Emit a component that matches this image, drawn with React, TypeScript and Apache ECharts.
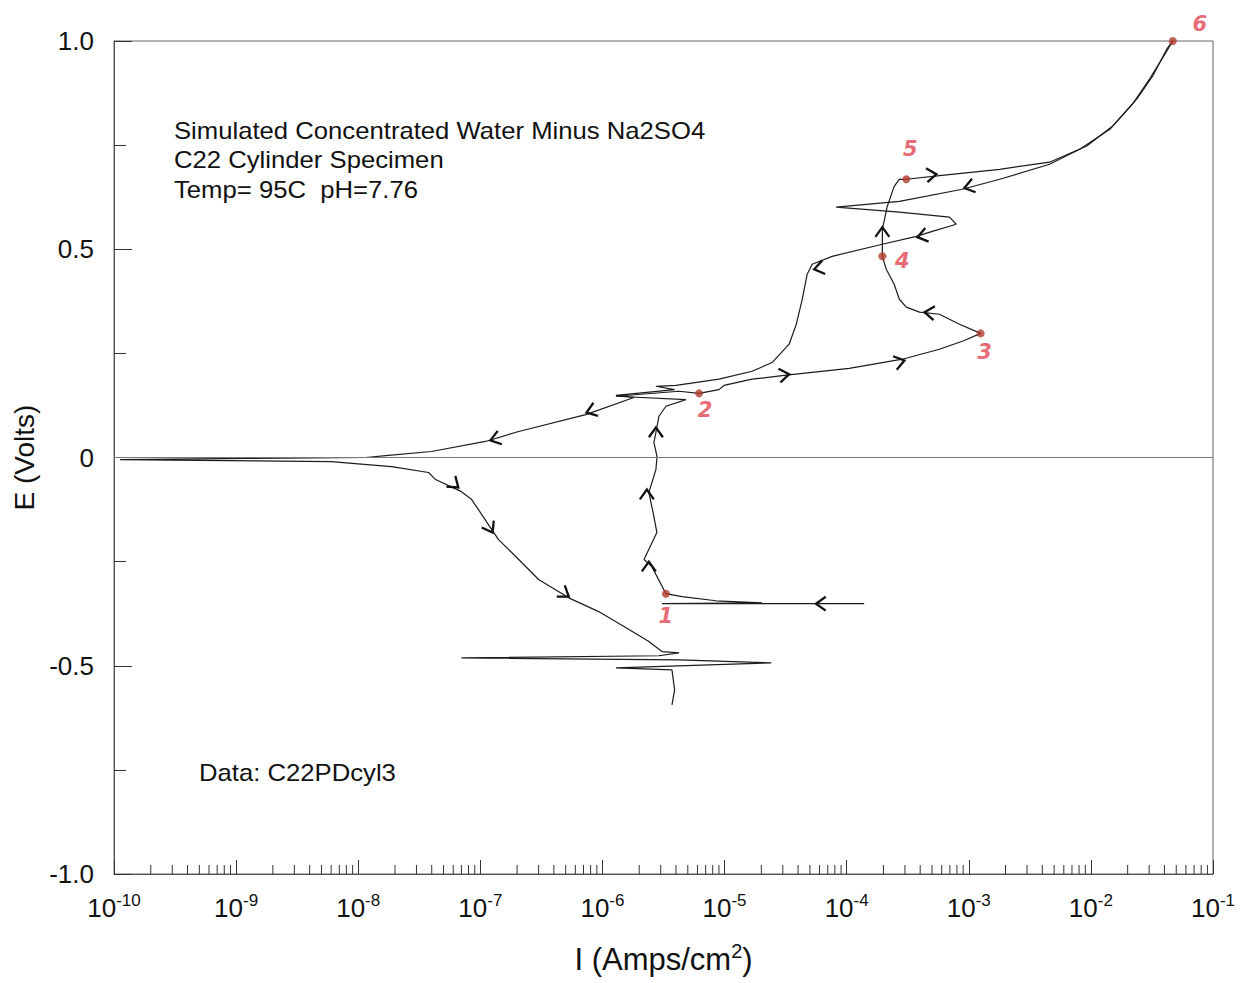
import React, { useEffect, useRef } from "react";
import * as echarts from "echarts";

// Forward scan: current density (A/cm²) and potential (V), from the start near -0.35 V up to 1.0 V
const forwardI = [
  1.39e-4, 5.2e-5, 3.07e-6, 2.03e-5, 8.5e-6, 4.48e-6, 3.31e-6, 2.54e-6, 2.19e-6, 2.79e-6,
  2.64e-6, 2.4e-6, 2.74e-6, 2.8e-6, 2.64e-6, 2.74e-6, 2.9e-6, 3.31e-6, 4.83e-6, 1.29e-6,
  4.24e-6, 6.18e-6, 9.0e-6, 9.9e-6, 1.68e-5, 3.08e-5, 1.05e-4, 2.86e-4, 5.75e-4, 9.2e-4,
  1.25e-3, 8.4e-4, 5.75e-4, 3.95e-4, 3.08e-4, 2.7e-4, 2.45e-4, 2.11e-4, 1.96e-4, 1.96e-4,
  2.15e-4, 2.45e-4, 2.7e-4, 3.08e-4, 6.3e-4, 1.79e-3, 4.59e-3, 9.25e-3, 1.51e-2, 2.38e-2,
  3.21e-2, 4.19e-2, 4.69e-2,
];
const forwardE = [
  -0.351, -0.351, -0.351, -0.349, -0.344, -0.334, -0.327, -0.262, -0.245, -0.18,
  -0.142, -0.084, -0.029, 0.002, 0.036, 0.06, 0.099, 0.123, 0.139, 0.147,
  0.159, 0.154, 0.163, 0.173, 0.188, 0.197, 0.214, 0.236, 0.26, 0.281,
  0.298, 0.32, 0.344, 0.349, 0.361, 0.38, 0.416, 0.452, 0.483, 0.548,
  0.603, 0.651, 0.668, 0.668, 0.678, 0.692, 0.709, 0.748, 0.796, 0.861,
  0.916, 0.981, 1.0,
];

// Reverse scan: from 1.0 V back down to about -0.6 V
const reverseI = [
  4.69e-2, 4.19e-2, 3.03e-2, 2.2e-2, 1.43e-2, 8.1e-3, 4.59e-3, 1.79e-3, 8.87e-4, 2.7e-4,
  8.2e-5, 2.7e-4, 6.95e-4, 7.9e-4, 5.03e-4, 3.72e-4, 1.96e-4, 7.6e-5, 5.22e-5, 4.75e-5,
  4.33e-5, 3.87e-5, 3.38e-5, 2.45e-5, 1.68e-5, 9.0e-6, 4.0e-6, 2.74e-6, 3.9e-6, 1.29e-6,
  1.81e-6, 7.3e-7, 2.06e-7, 1.1e-7, 3.98e-8, 1.77e-8, 1.15e-8, 1.26e-9, 1.12e-10, 4.9e-10,
  6.0e-9, 1.87e-8, 3.77e-8, 4.3e-8, 7.0e-8, 8.5e-8, 1.24e-7, 1.41e-7, 2.06e-7, 3.0e-7,
  5.3e-7, 9.3e-7, 1.65e-6, 2.4e-6, 3.07e-6, 4.24e-6, 2.9e-6, 7.0e-8, 4.24e-6, 2.41e-5,
  1.29e-6, 3.71e-6, 3.9e-6, 3.71e-6,
];
const reverseE = [
  1.0, 0.976, 0.909, 0.849, 0.788, 0.74, 0.704, 0.668, 0.644, 0.615,
  0.601, 0.589, 0.577, 0.56, 0.543, 0.531, 0.512, 0.483, 0.464, 0.44,
  0.38, 0.32, 0.272, 0.228, 0.207, 0.188, 0.173, 0.171, 0.163, 0.149,
  0.144, 0.103, 0.0625, 0.0385, 0.0144, 0.005, 0.0, -0.002, -0.005, -0.007,
  -0.01, -0.022, -0.036, -0.053, -0.082, -0.101, -0.173, -0.197, -0.245, -0.293,
  -0.337, -0.37, -0.413, -0.442, -0.466, -0.469, -0.476, -0.481, -0.486, -0.493,
  -0.505, -0.51, -0.558, -0.594,
];

// Numbered points marked along the scan
const markerI = [3.31e-6, 6.18e-6, 1.25e-3, 1.96e-4, 3.08e-4, 4.69e-2];
const markerE = [-0.327, 0.154, 0.298, 0.483, 0.668, 1.0];
const markerNames = ["1", "2", "3", "4", "5", "6"];

// Direction arrows along the curve: current, potential, pointing angle (deg, 0 = right, 90 = up)
const arrowI = [5.6e-5, 2.4e-6, 2.31e-6, 2.74e-6, 3.38e-5, 2.97e-4, 4.34e-4, 1.96e-4, 5.43e-4, 9.2e-4, 3.8e-4, 5.42e-5, 7.4e-7, 1.21e-7, 6.6e-8, 1.26e-7, 5.3e-7];
const arrowE = [-0.351, -0.25, -0.077, 0.072, 0.2, 0.233, 0.349, 0.553, 0.68, 0.647, 0.529, 0.452, 0.108, 0.041, -0.072, -0.18, -0.334];
const arrowAngle = [180, 90, 90, 90, 8, 15, 174, 90, 6, 195, 194, 192, 199, 197, -40, -60, -35];

// Axis tick values
const yTickLabels: Record<string, string> = { "1": "1.0", "0.5": "0.5", "0": "0", "-0.5": "-0.5", "-1": "-1.0" };
const decades = [-10, -9, -8, -7, -6, -5, -4, -3, -2];
const minorMultipliers = [2, 3, 4, 5, 6, 7, 8, 9];

// Label placement for the hand-written numbers (px offsets from each dot)
const markerLabelOffsets = [[0, 22], [6, 17], [4, 19], [20, 5], [4, -30], [27, -17]];

const FONT = "'Liberation Sans', Arial, sans-serif";
const RED_DOT = "#b33a2c";
const RED_TEXT = "#e2434f";

function buildOption() {
  const forward = forwardI.map((v, i) => [v, forwardE[i]]);
  const reverse = reverseI.map((v, i) => [v, reverseE[i]]);
  const markers = markerI.map((v, i) => ({
    value: [v, markerE[i]],
    name: markerNames[i],
    label: { offset: markerLabelOffsets[i] },
  }));
  const arrows = arrowI.map((v, i) => [v, arrowE[i], arrowAngle[i]]);
  const minorTicks: number[][] = [];
  decades.forEach((d) => minorMultipliers.forEach((m) => minorTicks.push([m * Math.pow(10, d), -1])));

  const lineStyle = { color: "#1c1c1c", width: 1.2 };

  return {
    animation: false,
    backgroundColor: "#ffffff",
    grid: {
      left: 114,
      right: 32,
      top: 41,
      bottom: 109,
      show: true,
      borderColor: "#666",
      borderWidth: 1,
      containLabel: false,
      outerBoundsMode: "none",
    },
    xAxis: {
      type: "log",
      logBase: 10,
      min: 1e-10,
      max: 1e-1,
      splitNumber: 9,
      axisLine: { show: true, onZero: false, lineStyle: { color: "#555", width: 1 } },
      axisTick: { show: true, inside: true, length: 14, lineStyle: { color: "#333", width: 1 } },
      minorTick: { show: false },
      splitLine: { show: false },
      axisLabel: {
        margin: 18,
        color: "#111",
        formatter: (v: number) => `{b|10}{s|${Math.round(Math.log10(v))}}`,
        rich: {
          b: { fontFamily: FONT, fontSize: 26, color: "#111" },
          s: { fontFamily: FONT, fontSize: 17, color: "#111", padding: [0, 0, 14, 0] },
        },
      },
      name: "{m|I (Amps/cm}{s|2}{m|)}",
      nameLocation: "middle",
      nameGap: 67,
      nameTextStyle: {
        rich: {
          m: { fontFamily: FONT, fontSize: 31, color: "#111" },
          s: { fontFamily: FONT, fontSize: 20, color: "#111", padding: [0, 0, 17, 0] },
        },
      },
    },
    yAxis: {
      type: "value",
      min: -1,
      max: 1,
      interval: 0.5,
      axisLine: { show: true, lineStyle: { color: "#555", width: 1 } },
      axisTick: { show: true, inside: true, length: 18, lineStyle: { color: "#333", width: 1 } },
      minorTick: { show: true, splitNumber: 2, length: 12, lineStyle: { color: "#333", width: 1 } },
      splitLine: { show: false },
      axisLabel: {
        margin: 20,
        fontFamily: FONT,
        fontSize: 26,
        color: "#111",
        formatter: (v: number) => yTickLabels[String(v)] ?? String(v),
      },
      name: "E (Volts)",
      nameLocation: "middle",
      nameGap: 73,
      nameTextStyle: { fontFamily: FONT, fontSize: 28, color: "#111" },
    },
    graphic: [
      {
        type: "text",
        x: 174,
        y: 116,
        scaleX: 1.07,
        style: {
          text: "Simulated Concentrated Water Minus Na2SO4\nC22 Cylinder Specimen\nTemp= 95C  pH=7.76",
          font: `24px ${FONT}`,
          fill: "#111",
          lineHeight: 29.5,
          verticalAlign: "top",
        },
      },
      {
        type: "text",
        x: 199,
        y: 773,
        scaleX: 1.07,
        style: { text: "Data: C22PDcyl3", font: `24px ${FONT}`, fill: "#111", verticalAlign: "middle" },
      },
    ],
    series: [
      {
        name: "forward",
        type: "line",
        data: forward,
        showSymbol: false,
        lineStyle,
        silent: true,
        clip: false,
        z: 4,
      },
      {
        name: "reverse",
        type: "line",
        data: reverse,
        showSymbol: false,
        lineStyle,
        silent: true,
        clip: false,
        z: 4,
        markLine: {
          silent: true,
          symbol: "none",
          label: { show: false },
          lineStyle: { color: "#777", width: 1, type: "solid" },
          data: [{ yAxis: 0 }],
        },
      },
      {
        name: "minor ticks",
        type: "custom",
        data: minorTicks,
        silent: true,
        z: 3,
        renderItem: (_params: any, api: any) => {
          const p = api.coord([api.value(0), api.value(1)]);
          return {
            type: "line",
            shape: { x1: p[0], y1: p[1], x2: p[0], y2: p[1] - 9 },
            style: { stroke: "#333", lineWidth: 1 },
          };
        },
      },
      {
        name: "arrows",
        type: "custom",
        data: arrows,
        silent: true,
        z: 6,
        renderItem: (_params: any, api: any) => {
          const p = api.coord([api.value(0), api.value(1)]);
          const a = (api.value(2) * Math.PI) / 180;
          const back = a + Math.PI;
          const L = 12;
          const spread = 0.62;
          const p1 = [p[0] + L * Math.cos(back + spread), p[1] - L * Math.sin(back + spread)];
          const p2 = [p[0] + L * Math.cos(back - spread), p[1] - L * Math.sin(back - spread)];
          return {
            type: "polyline",
            shape: { points: [p1, p, p2] },
            style: { stroke: "#111", lineWidth: 2.3, fill: null, lineJoin: "miter" },
          };
        },
      },
      {
        name: "points",
        type: "scatter",
        data: markers,
        symbol: "circle",
        symbolSize: 8,
        itemStyle: { color: RED_DOT },
        silent: true,
        z: 7,
        label: {
          show: true,
          position: "inside",
          formatter: (p: any) => p.name,
          fontFamily: "'DejaVu Sans', sans-serif",
          fontWeight: "bold",
          fontStyle: "italic",
          fontSize: 21,
          color: RED_TEXT,
        },
      },
    ],
  };
}

export default function App() {
  const ref = useRef<HTMLDivElement>(null);
  useEffect(() => {
    if (!ref.current) return;
    const chart = echarts.init(ref.current, null, { renderer: "svg" });
    chart.setOption(buildOption() as any);
    return () => chart.dispose();
  }, []);
  return (
    <div
      ref={ref}
      style={{ position: "fixed", left: 0, top: 0, width: 1245, height: 983, background: "#fff" }}
    />
  );
}
